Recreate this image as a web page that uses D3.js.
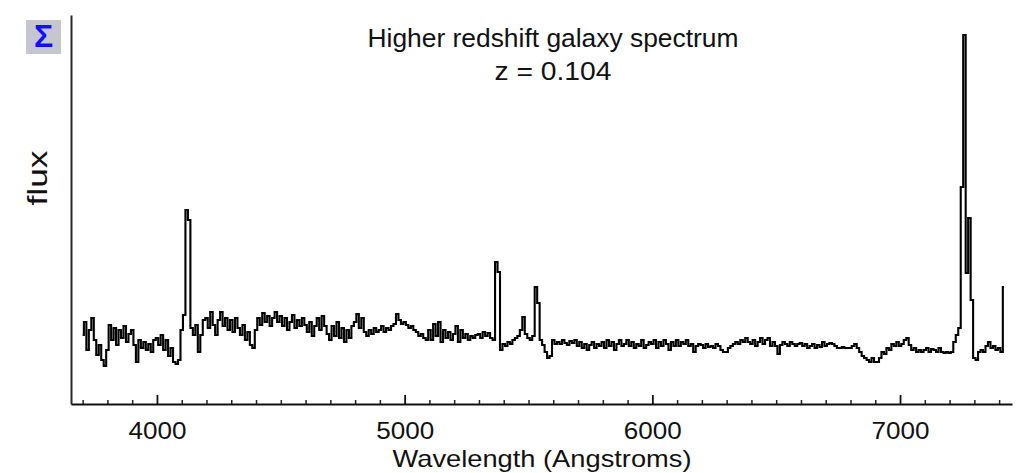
<!DOCTYPE html>
<html>
<head>
<meta charset="utf-8">
<script src="https://cdn.jsdelivr.net/npm/d3@7"></script>
<style>
  html, body { margin: 0; padding: 0; background: #fff; }
  svg { display: block; }
  text { font-family: "Liberation Sans", Arial, sans-serif; fill: #111; }
</style>
</head>
<body>
<svg id="chart" width="1023" height="473"></svg>
<script>
// Wavelength grid of the spectrum (Angstroms), 10 A bins
const wavelengths = d3.range(3700, 7430, 10);

// Flux per bin (arbitrary units)
const flux = [
  17.25, 20.5, 13.5, 18.5, 21.5, 16, 12.25, 14.75, 11, 9.5,
  13.5, 19.75, 16, 19, 14.75, 18.5, 16.5, 19.5, 15.5, 17.5,
  18.5, 14.75, 10.5, 16, 14, 15.5, 13.5, 15, 13, 16,
  16.5, 14.75, 17.25, 13.5, 16, 12, 14, 10.5, 10, 11,
  18.5, 22.25, 48.5, 46, 19, 17.25, 19.75, 13, 17.25, 21,
  21.5, 19, 23, 19.75, 17.25, 21, 23, 19.5, 21.5, 18.5,
  21, 18, 21.5, 19, 17.25, 19.75, 16, 18, 14.75, 14,
  18.5, 21.5, 19.75, 22.75, 20.5, 22, 19.5, 21.5, 23, 20.5,
  22, 19.5, 21.5, 18.5, 20.5, 22.25, 19, 21, 19.5, 21.5,
  19.75, 18, 20.5, 17, 19.5, 21.5, 18.5, 22, 19.5, 17.5,
  16, 19.5, 17, 20.5, 16.5, 19, 15.5, 18.5, 16.5, 19.5,
  20.5, 22.5, 19, 21.5, 18, 17, 18.5, 17.5, 19, 18,
  18.5, 19.5, 18, 19, 18.5, 19.5, 20, 22.5, 21, 20,
  20.5, 19.75, 19, 19.5, 18.5, 18, 17, 17.5, 16.5, 16,
  18.5, 16, 20, 17, 20.5, 15.5, 18.5, 16.5, 18, 16,
  17.5, 19.5, 15.5, 18.5, 16.5, 17.5, 16, 17, 16.5, 17.25,
  17.5, 16.5, 18, 17, 17.75, 16.5, 16, 35.5, 33, 13.5,
  15, 14.5, 15.5, 15, 16, 16.5, 17, 18.5, 21.75, 17.5,
  16.5, 16, 17, 29.25, 25.25, 16, 14.75, 13, 11.5, 12,
  16, 15, 15.5, 15, 16, 15.25, 14.75, 15.75, 15.25, 16,
  14.5, 15.5, 14, 15, 13.5, 14.75, 15.5, 14, 15, 14.5,
  15.5, 14, 16, 14.5, 15.5, 13.5, 15, 16, 14.5, 15,
  16, 14.5, 15.5, 14, 15, 14.5, 16, 14, 14.75, 15.5,
  15, 16, 14, 15.5, 14.5, 16, 15, 13.5, 15.5, 14.5,
  16, 14.5, 15.5, 15, 16, 14.5, 15, 13, 14.5, 15,
  14.75, 14, 15, 14.25, 14.5, 14, 15, 14.5, 13.5, 13,
  13, 14, 14.5, 15, 15.5, 15, 16, 15.5, 16.5, 15.5,
  15, 16, 14.5, 15.5, 16.5, 15, 16, 16.5, 14.5, 15.5,
  14.5, 12.5, 14.75, 15.5, 15, 14.5, 15.5, 15, 14.5, 15,
  15.25, 14.5, 15, 14, 14.5, 15, 14, 14.75, 14.25, 15.5,
  14.5, 15, 15.25, 15, 14.5, 14, 14, 14.25, 14, 14,
  14, 14.5, 15, 14, 13, 12, 11.5, 11, 10.5, 11.5,
  10.5, 10.5, 11.5, 13, 12.5, 14, 13.5, 15, 14.5, 15.5,
  14.5, 15, 16, 16.5, 14.75, 13.5, 14, 13, 13.5, 13,
  13.5, 14, 13, 13.75, 13.5, 13, 14, 13, 12.75, 13,
  12.75, 13, 15.5, 17.25, 19, 54.25, 92.25, 32.75, 46.5, 26,
  11.5, 11, 13, 13.5, 13, 14.5, 15.5, 14, 14.5, 13.5, 14, 13, 29.25
];

// Axis ticks (Angstroms)
const majorTicks = [4000, 5000, 6000, 7000];
const minorTicks = d3.range(3700, 7500, 100).filter(v => !majorTicks.includes(v));

const titleLines = ["Higher redshift galaxy spectrum", "z = 0.104"];
const xLabel = "Wavelength (Angstroms)";
const yLabel = "flux";

const svg = d3.select("#chart");

const x = d3.scaleLinear().domain([3653, 7452]).range([71, 1012]);
const y = d3.scaleLinear().domain([0, 97.25]).range([404, 15]);

// Spectrum as a stepped line
const line = d3.line()
  .x((d, i) => x(wavelengths[i]))
  .y(d => y(d))
  .curve(d3.curveStep);

svg.append("path")
  .datum(flux)
  .attr("d", line)
  .attr("fill", "none")
  .attr("stroke", "#000")
  .attr("stroke-width", 2.1)
  .attr("stroke-linejoin", "miter");

// Minor ticks every 100 A, pointing up into the plot
const minorAxis = d3.axisBottom(x)
  .tickValues(minorTicks)
  .tickSizeInner(-4)
  .tickSizeOuter(0)
  .tickFormat("");
const gMinor = svg.append("g")
  .attr("transform", `translate(0,${y(0)})`)
  .call(minorAxis);
gMinor.select(".domain").remove();
gMinor.selectAll(".tick line").attr("stroke", "#222").attr("stroke-width", 1.5);

// Major ticks with labels
const majorAxis = d3.axisBottom(x)
  .tickValues(majorTicks)
  .tickSizeInner(-9)
  .tickSizeOuter(0)
  .tickPadding(18)
  .tickFormat(d3.format("d"));
const gMajor = svg.append("g")
  .attr("transform", `translate(0,${y(0)})`)
  .call(majorAxis);
gMajor.select(".domain").attr("stroke", "#111").attr("stroke-width", 2);
gMajor.selectAll(".tick line").attr("stroke", "#111").attr("stroke-width", 1.8);
gMajor.selectAll(".tick text")
  .attr("font-family", "'Liberation Sans', Arial, sans-serif")
  .attr("font-size", 24)
  .attr("fill", "#111")
  .attr("textLength", 58)
  .attr("lengthAdjust", "spacingAndGlyphs");

// Left axis: plain line, no ticks
const yAxis = d3.axisLeft(y).tickValues([]).tickSizeOuter(0);
const gY = svg.append("g")
  .attr("transform", `translate(${x.range()[0]},0)`)
  .call(yAxis);
gY.select(".domain").attr("stroke", "#2a2a2a").attr("stroke-width", 2);

// Title
svg.append("text")
  .attr("x", 553).attr("y", 47)
  .attr("text-anchor", "middle")
  .attr("font-size", 25)
  .attr("textLength", 371)
  .attr("lengthAdjust", "spacingAndGlyphs")
  .text(titleLines[0]);
svg.append("text")
  .attr("x", 553).attr("y", 80)
  .attr("text-anchor", "middle")
  .attr("font-size", 25)
  .attr("textLength", 117)
  .attr("lengthAdjust", "spacingAndGlyphs")
  .text(titleLines[1]);

// Axis titles
svg.append("text")
  .attr("x", 542).attr("y", 467)
  .attr("text-anchor", "middle")
  .attr("font-size", 24)
  .attr("textLength", 299)
  .attr("lengthAdjust", "spacingAndGlyphs")
  .text(xLabel);
svg.append("text")
  .attr("transform", "translate(47,178) rotate(-90)")
  .attr("text-anchor", "middle")
  .attr("font-size", 28)
  .attr("textLength", 55)
  .attr("lengthAdjust", "spacingAndGlyphs")
  .text(yLabel);

// Sigma badge in the corner
svg.append("rect")
  .attr("x", 26).attr("y", 20)
  .attr("width", 35).attr("height", 34)
  .attr("fill", "#c6c6d0");
svg.append("text")
  .attr("x", 43.5).attr("y", 47)
  .attr("text-anchor", "middle")
  .attr("font-size", 32)
  .attr("font-weight", "bold")
  .style("fill", "#1010ff")
  .text("Σ");
</script>
</body>
</html>
